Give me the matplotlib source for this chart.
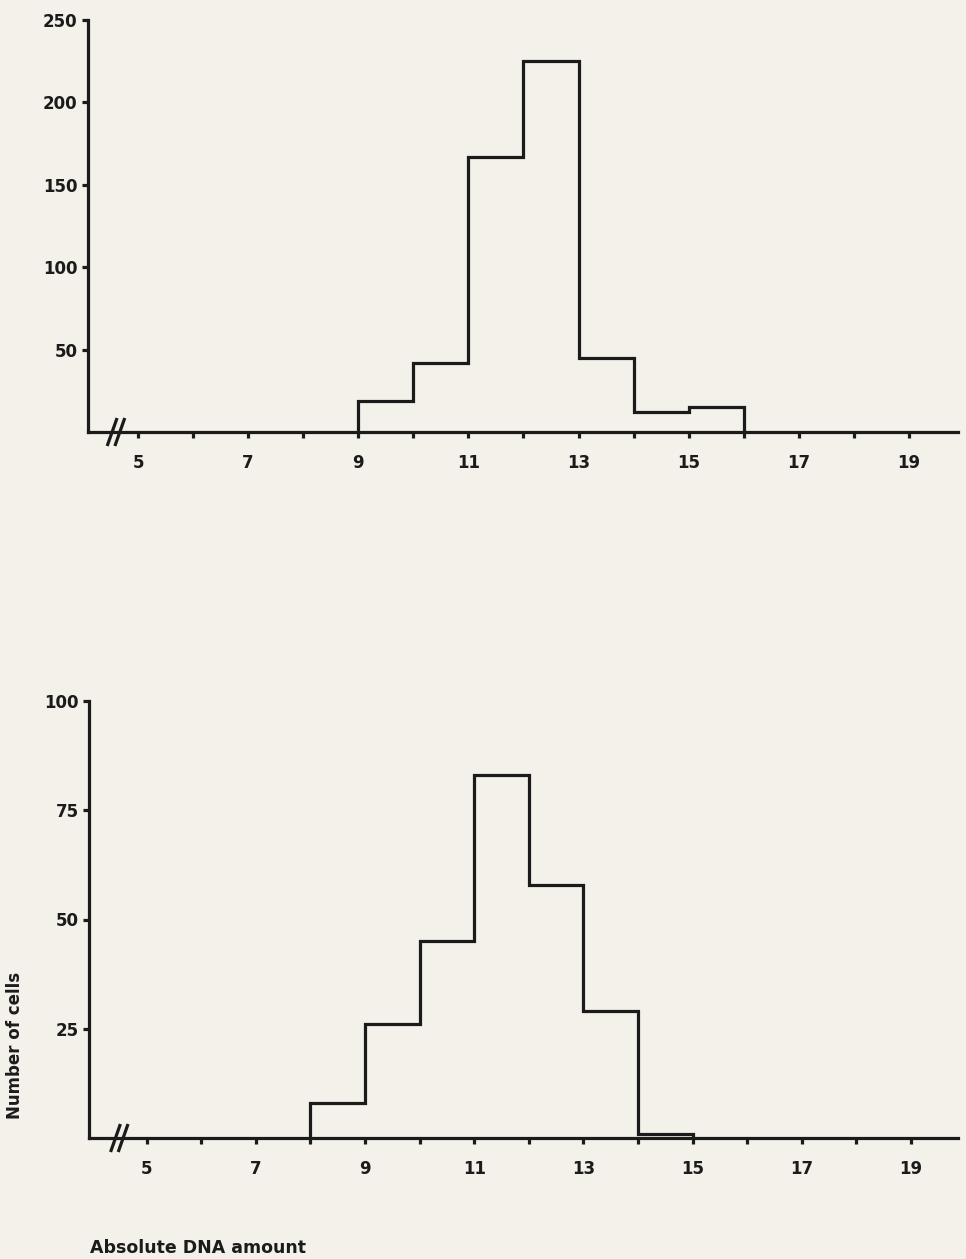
import matplotlib
matplotlib.use("Agg")
import matplotlib.pyplot as plt

# ---- data ----
top_edges = [9, 10, 11, 12, 13, 14, 15, 16]
top_counts = [19, 42, 167, 225, 45, 12, 15]

bottom_edges = [8, 9, 10, 11, 12, 13, 14, 15]
bottom_counts = [8, 26, 45, 83, 58, 29, 1]

x_ticks = list(range(5, 20))
x_ticklabels = [str(v) if v % 2 == 1 else "" for v in x_ticks]
top_yticks = [50, 100, 150, 200, 250]
bottom_yticks = [25, 50, 75, 100]

ylabel = "Number of cells"
xlabel = "Absolute DNA amount"

# ---- style ----
W, H = 966, 1259
BG = "#f4f0ea"
INK = "#1b1b1b"
LW = 2.3
FONT = "DejaVu Sans"

plt.rcParams["font.family"] = [FONT]

fig = plt.figure(figsize=(W / 100, H / 100), dpi=100)
fig.patch.set_facecolor(BG)


def px_rect(left, top, right, bottom):
    return [left / W, 1 - bottom / H, (right - left) / W, (bottom - top) / H]


def style_axes(ax, xlim, ylim, yticks, break_x, ax_h_px):
    ax.set_facecolor("none")
    ax.set_xlim(*xlim)
    ax.set_ylim(*ylim)
    for s in ["top", "right"]:
        ax.spines[s].set_visible(False)
    for s in ["left", "bottom"]:
        ax.spines[s].set_linewidth(LW)
        ax.spines[s].set_color(INK)
        ax.spines[s].set_capstyle("projecting")
    ax.set_xticks(x_ticks)
    ax.set_xticklabels(x_ticklabels)
    ax.set_yticks(yticks)
    ax.set_yticklabels([str(v) for v in yticks])
    ax.tick_params(axis="both", direction="out", length=4.5, width=LW,
                   color=INK, labelcolor=INK, labelsize=12)
    ax.tick_params(axis="x", pad=11)
    ax.tick_params(axis="y", pad=3)
    for lab in ax.get_xticklabels() + ax.get_yticklabels():
        lab.set_fontweight("bold")
    # axis break marks "//"
    tr = ax.get_xaxis_transform()
    dy = 14 / ax_h_px
    dx = 0.09
    for off in (-0.07, 0.07):
        cx = break_x + off
        ax.plot([cx - dx, cx + dx], [-dy, dy], transform=tr, color=INK,
                lw=LW, clip_on=False, solid_capstyle="butt")


# top histogram
ax1 = fig.add_axes(px_rect(88, 20, 958, 432))
style_axes(ax1, (4.092, 19.89), (0, 250), top_yticks, 4.6, 412)
ax1.stairs(top_counts, top_edges, baseline=0, fill=False, color=INK,
           linewidth=LW)

# bottom histogram
ax2 = fig.add_axes(px_rect(89, 701, 958, 1138))
style_axes(ax2, (3.945, 19.86), (0, 100), bottom_yticks, 4.5, 437)
ax2.stairs(bottom_counts, bottom_edges, baseline=0, fill=False, color=INK,
           linewidth=LW)

fig.text(15 / W, 1 - 1045 / H, ylabel, rotation=90, ha="center",
         va="center", fontsize=12, fontweight="bold", color=INK)
fig.text(90 / W, 1 - 1248 / H, xlabel, ha="left", va="center",
         fontsize=12.5, fontweight="bold", color=INK)

fig.savefig("out.png", dpi=100, facecolor=BG)
